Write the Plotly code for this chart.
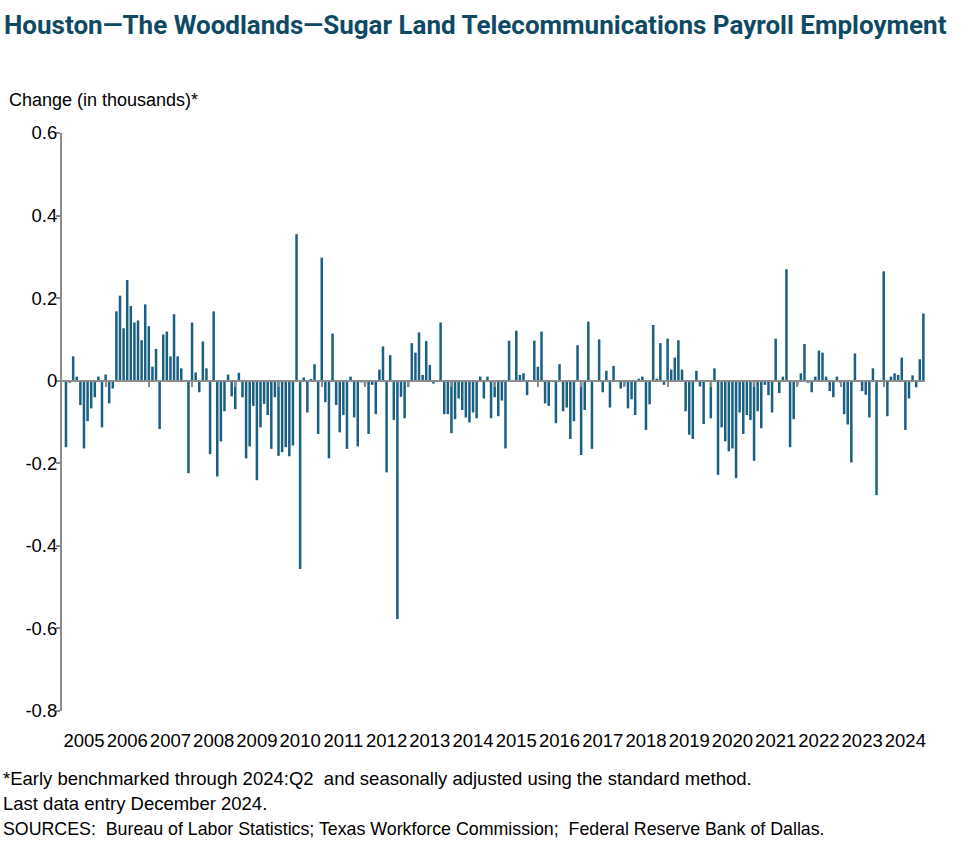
import plotly.graph_objects as go

# Monthly change, Feb 2005 .. Dec 2024 (thousands)
years = [str(y) for y in range(2005, 2025)]
values = [
    -0.161, -0.005, 0.059, 0.010, -0.059, -0.164, -0.098, -0.067, -0.040, 0.010, -0.113,          # 2005 Feb-Dec
    0.015, -0.055, -0.019, 0.168, 0.206, 0.127, 0.244, 0.181, 0.141, 0.146, 0.098, 0.185,         # 2006
    0.132, 0.034, 0.077, -0.117, 0.112, 0.119, 0.059, 0.161, 0.059, 0.030, 0.0, -0.224,           # 2007
    0.141, 0.020, -0.028, 0.095, 0.030, -0.178, 0.168, -0.232, -0.147, -0.074, 0.015, -0.038,      # 2008
    -0.069, 0.019, -0.040, -0.188, -0.159, -0.061, -0.241, -0.113, -0.056, -0.083, -0.165, -0.040, # 2009
    -0.182, -0.173, -0.161, -0.183, -0.157, 0.355, -0.456, 0.008, -0.077, 0.004, 0.040, -0.129,   # 2010
    0.298, -0.052, -0.188, 0.114, -0.059, -0.125, -0.083, -0.165, 0.010, -0.089, -0.159, -0.004,  # 2011
    -0.010, -0.129, -0.010, -0.081, 0.027, 0.083, -0.222, 0.062, -0.095, -0.577, -0.039, -0.091,  # 2012
    -0.015, 0.091, 0.068, 0.117, 0.014, 0.096, 0.038, -0.007, 0.0, 0.141, -0.081, -0.081,         # 2013
    -0.127, -0.093, -0.043, -0.071, -0.089, -0.101, -0.077, -0.091, 0.010, -0.043, 0.010, -0.091, # 2014
    -0.040, -0.086, -0.048, -0.164, 0.097, 0.0, 0.121, 0.014, 0.018, -0.035, 0.0, 0.097,          # 2015
    0.034, 0.119, -0.055, -0.061, 0.0, -0.103, 0.040, -0.074, -0.065, -0.141, -0.098, 0.086,      # 2016
    -0.180, -0.071, 0.143, -0.165, 0.0, 0.100, -0.028, 0.024, -0.065, 0.036, 0.0, -0.019,         # 2017
    -0.012, -0.067, -0.045, -0.083, 0.005, 0.010, -0.119, -0.057, 0.135, 0.005, 0.091, -0.010,    # 2018
    0.102, 0.027, 0.056, 0.098, 0.027, -0.074, -0.131, -0.141, 0.024, -0.014, -0.105, 0.0,        # 2019
    -0.091, 0.030, -0.228, -0.113, -0.147, -0.171, -0.164, -0.236, -0.077, -0.129, -0.083, -0.095, # 2020
    -0.194, -0.074, -0.115, -0.010, -0.035, -0.077, 0.102, -0.030, 0.010, 0.270, -0.161, -0.093,  # 2021
    -0.010, 0.018, 0.089, -0.005, -0.028, 0.010, 0.073, 0.068, 0.010, -0.025, -0.040, 0.010,      # 2022
    -0.005, -0.081, -0.106, -0.198, 0.066, 0.0, -0.025, -0.034, -0.089, 0.030, -0.277, 0.0,       # 2023
    0.265, -0.086, 0.010, 0.018, 0.014, 0.056, -0.119, -0.043, 0.013, -0.016, 0.052, 0.163,       # 2024
]
y_tick_vals = [0.6, 0.4, 0.2, 0.0, -0.2, -0.4, -0.6, -0.8]
y_tick_text = ["0.6", "0.4", "0.2", "0", "-0.2", "-0.4", "-0.6", "-0.8"]

x = list(range(len(values)))
label_pos = [5 + 12 * k for k in range(len(years))]       # mid-year label centres
jan_ticks = [11 + 12 * k for k in range(len(years) - 1)]  # January of each year

W, H = 977, 864
ml, mr, mt, mb = 62, 977 - 925, 133, 864 - 711
pw, ph = W - ml - mr, H - mt - mb
def px(xs): return (xs - ml) / pw
def py(ys): return (H - mb - ys) / ph

FONT = "Liberation Sans, Arial, sans-serif"
TITLEF = "Roboto, Liberation Sans, sans-serif"
AX = "#8c8c8c"

fig = go.Figure()
fig.add_trace(go.Bar(x=x, y=values, marker=dict(color="#1a6083", line=dict(width=0)),
                     hoverinfo="x+y"))
fig.add_trace(go.Scatter(x=[0], y=[0], xaxis="x2", mode="markers",
                         marker=dict(opacity=0), hoverinfo="skip", showlegend=False))

xr = [-1.1, len(values) - 0.55]
fig.update_layout(
    width=W, height=H, margin=dict(l=ml, r=mr, t=mt, b=mb, autoexpand=False),
    paper_bgcolor="white", plot_bgcolor="white", showlegend=False, bargap=0.3,
    font=dict(family=FONT, color="#000000"),
    xaxis=dict(range=xr, tickvals=label_pos, ticktext=years, ticks="outside", ticklen=13,
               tickcolor="rgba(0,0,0,0)", showline=False, showgrid=False, zeroline=False,
               tickfont=dict(size=18.5, family=FONT, color="#000")),
    xaxis2=dict(range=xr, overlaying="x", anchor="free", position=0.8 / 1.4,
                side="bottom", showline=True, linecolor=AX, linewidth=2, ticks="outside",
                ticklen=5, tickwidth=2, tickcolor=AX, tickvals=jan_ticks,
                showticklabels=False, showgrid=False, zeroline=False),
    yaxis=dict(range=[-0.8, 0.6], tickvals=y_tick_vals, ticktext=y_tick_text,
               showline=True, linecolor=AX, linewidth=2, ticks="outside", ticklen=4,
               tickcolor=AX, tickwidth=1.5, showgrid=False, zeroline=False,
               ticklabelstandoff=-5,
               tickfont=dict(size=18.5, family=FONT, color="#000")),
)

annotations = [
    dict(text="<b>Houston—The Woodlands—Sugar Land Telecommunications Payroll Employment</b>",
         x=px(2), y=py(25), xanchor="left", yanchor="middle",
         font=dict(size=26, family=TITLEF, color="#0e4a63")),
    dict(text="Change (in thousands)*", x=px(7), y=py(100), xanchor="left", yanchor="middle",
         font=dict(size=18, family=FONT, color="#000")),
    dict(text="*Early benchmarked through 2024:Q2  and seasonally adjusted using the standard method.",
         x=px(1), y=py(778), xanchor="left", yanchor="middle",
         font=dict(size=18.5, family=FONT, color="#000")),
    dict(text="Last data entry December 2024.", x=px(1), y=py(803), xanchor="left", yanchor="middle",
         font=dict(size=18.5, family=FONT, color="#000")),
    dict(text="SOURCES:  Bureau of Labor Statistics; Texas Workforce Commission;  Federal Reserve Bank of Dallas.",
         x=px(1), y=py(829), xanchor="left", yanchor="middle",
         font=dict(size=17.8, family=FONT, color="#000")),
]
for a in annotations:
    a.update(xref="paper", yref="paper", showarrow=False)
fig.update_layout(annotations=annotations)

fig.write_html("out.html", config={"displayModeBar": False},
               post_script="document.body.style.margin='0';")
